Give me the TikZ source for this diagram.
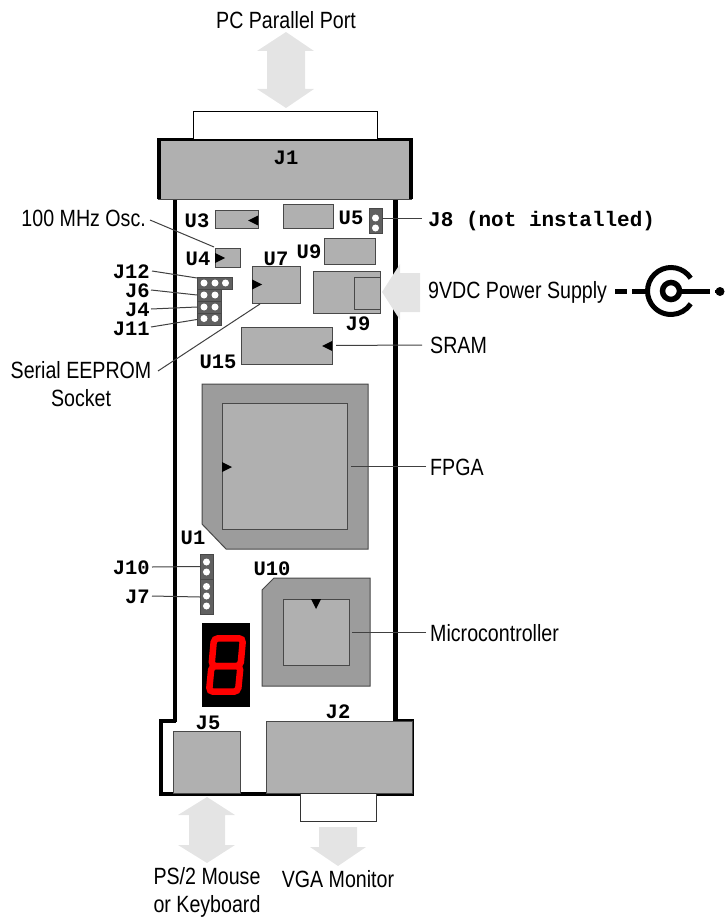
\documentclass[tikz,border=0pt]{standalone}
\usepackage{fontspec}
\setmainfont[FakeStretch=0.835]{Liberation Sans}
\newfontfamily\pinfont{Liberation Mono}
\definecolor{partgray}{HTML}{B0B0B0}
\definecolor{carriergray}{HTML}{9C9C9C}
\definecolor{headergray}{HTML}{606060}
\definecolor{edgegray}{HTML}{484848}
\definecolor{arrowgray}{HTML}{E4E4E4}
\tikzset{
  chip/.style={draw=edgegray, fill=partgray, line width=1pt, inner sep=0, outer sep=0, anchor=north west},
  header/.style={chip, fill=headergray},
  pin label/.style={inner sep=0, font=\pinfont\bfseries\fontsize{20.5}{22}\selectfont},
  sans label/.style={inner sep=0, align=center, font=\fontsize{23.5}{28}\selectfont},
  leader/.style={draw=black!75, line width=1pt},
  big arrow/.style={fill=arrowgray},
}
\begin{document}
\begin{tikzpicture}[x=1pt, y=-1pt, >=stealth]
  \useasboundingbox (0,0) rectangle (724,917);

  % board outline
  \draw [line width=4.4pt] (175,199) -- (175,722);
  \draw [line width=4.4pt] (395.5,199) -- (395.5,722);
  \draw [line width=3.5pt] (176,721) -- (161,721) -- (161,794) -- (412,794) -- (412,721) -- (394,721);

  % connectors
  \node [chip, line width=1.8pt, minimum width=252, minimum height=60] (J1) at (159,139.5) {};
  \draw [line width=3.5pt] (J1.south west) |- (J1.north east) -- (J1.south east);
  \node [chip, draw=black, fill=white, minimum width=184, minimum height=28] (J1-tab) at (193,112) {};
  \node [chip, minimum width=67, minimum height=62] (J5) at (173,731) {};
  \node [chip, minimum width=146, minimum height=72] (J2) at (266,721) {};
  \node [chip, draw=black!80, fill=white, minimum width=76, minimum height=28] (J2-tab) at (300,793) {};

  % parts on the board
  \foreach \n/\x/\y/\w/\h in {U3/215/211/43/18, U0/283/205/50/24, U9/324/238/51/26, J9/313/271/67/42,
      J9-jack/354/277/26/32, U4/215/248/25/19, U7/252/266/48/37, U15/241/327/91/37}
    \node [chip, minimum width=\w, minimum height=\h] (\n) at (\x,\y) {};

  \draw [edgegray, line width=1pt, fill=carriergray] (202,384) -- (368,384) -- (368,549) -- (226,549) -- (202,524) -- cycle;
  \node [chip, minimum width=125, minimum height=126] (FPGA) at (222,403) {};
  \draw [edgegray, line width=1pt, fill=carriergray] (274,578) -- (370,578) -- (370,686) -- (262,686) -- (262,590) -- cycle;
  \node [chip, minimum width=66, minimum height=66] (MCU) at (283,599) {};

  % pin 1 marks
  \foreach \x/\y/\dx/\dy in {248/220.5/10/0, 225/258/-10/0, 262/284.5/-10/0, 322/346/10/0, 232/467/-10/0, 316/609/0/-10}
    \fill (\x,\y) -- ++({\dx+\dy/2},{\dy+\dx/2}) -- ++({-\dy},{-\dx}) -- cycle;

  % jumper headers
  \foreach \n/\x/\y/\w/\h in {J8/369/209/13/24, J12/197/277/35/12, J6/197/289/24/12, J4/197/301/24/12,
      J11/197/313/24/12, J10/200/554/13/25, J7/200/579/13/35}
    \node [header, minimum width=\w, minimum height=\h] (\n) at (\x,\y) {};
  \foreach \x/\y in {375.5/218, 375.5/228, 204/283, 215/283, 225.5/283, 204/295, 215/295, 204/307, 215/307,
      204/318.5, 215/318.5, 206.5/562, 206.5/572, 206.5/586.5, 206.5/596, 206.5/606}
    \fill [white] (\x,\y) circle (3.5);

  % seven segment display
  \node [chip, draw=none, fill=black, minimum width=48, minimum height=84] (display) at (202,623) {};
  \draw [red, line width=6.5pt, rounded corners=4pt] (214,638.3) -- (243,638.3) -- (240.5,666) -- (211.5,666) -- cycle;
  \draw [red, line width=6.5pt, rounded corners=4pt] (211.5,666) -- (240.5,666) -- (238,691.7) -- (209,691.7) -- cycle;

  % designators
  \foreach \t/\x/\y in {J1/286/158, U3/197/221, U5/351/218, U9/309/252, U7/276/259, U4/198/259, J9/358/324,
      U15/218/362, U1/193/538, U10/272/569, J2/338/712, J5/208/723}
    \node [pin label] (label-\t) at (\x,\y) {\t};
  \foreach \t/\y in {J12/272, J6/291, J4/310, J11/329, J10/568, J7/597}
    \node [pin label, anchor=east] (label-\t) at (150,\y) {\t};
  \node [pin label, anchor=west, font=\pinfont\bfseries\fontsize{21}{22}\selectfont] (label-J8) at (428,221) {J8 (not installed)};

  % names of the parts
  \node [sans label] (label-parallel) at (286,20) {PC Parallel Port};
  \node [sans label, anchor=east] (label-osc) at (146,218) {100 MHz Osc.};
  \node [sans label] (label-eeprom) at (81,384) {Serial EEPROM\\Socket};
  \node [sans label, anchor=west] (label-power) at (428,292) {9VDC Power Supply};
  \node [sans label, anchor=west] (label-sram) at (430,345) {SRAM};
  \node [sans label, anchor=west] (label-fpga) at (430,467) {FPGA};
  \node [sans label, anchor=west] (label-mcu) at (430,633) {Microcontroller};
  \node [sans label] (label-ps2) at (207,892) {PS/2 Mouse\\or Keyboard};
  \node [sans label] (label-vga) at (338,879) {VGA Monitor};

  % leaders
  \coordinate (osc-end) at (214,247);
  \coordinate (eeprom-end) at (260,304);
  \draw [leader] (label-osc.east) ++(4,2) -- (osc-end);
  \draw [leader] (158,371) -- (eeprom-end);
  \draw [leader] (label-J12.east) ++(2,-1) -- ([yshift=5pt]J12.west);
  \draw [leader] (label-J6.east) ++(1,-1) -- (J6.west);
  \draw [leader] (label-J4.east) ++(1,-1) -- (J4.west);
  \draw [leader] (label-J11.east) ++(1,-2) -- ([yshift=-0.5pt]J11.west);
  \draw [leader] (J8.east) ++(0,-2) -- ++(40,0);
  \draw [leader, shorten >=4pt] (label-sram.west) ++(-8,0) -- (U15.east);
  \draw [leader, shorten >=4pt] (label-fpga.west) ++(-4,-1) -- (FPGA.east);
  \draw [leader, shorten >=3pt] (label-mcu.west) ++(-4,-1) -- (MCU.east);
  \draw [leader] (label-J10.east) ++(2,-1) -- (J10.west);
  \draw [leader] (label-J7.east) ++(2,-1) -- ([yshift=-0.5pt]J7.west);

  % big arrows
  \fill [big arrow] (286,32) -- (314,51) -- (305,51) -- (305,89) -- (314,89) -- (286,108) -- (257,89) -- (267,89) -- (267,51) -- (257,51) -- cycle;
  \fill [big arrow] (207,797) -- (235,815) -- (225,815) -- (225,845) -- (235,845) -- (207,863) -- (178,845) -- (189,845) -- (189,815) -- (178,815) -- cycle;
  \fill [big arrow] (319,827) -- (357,827) -- (357,847) -- (366,847) -- (338,866) -- (310,847) -- (319,847) -- cycle;
  \fill [big arrow] (382,292) -- (400,264) -- (400,273) -- (420,273) -- (420,312) -- (400,312) -- (400,320) -- cycle;

  % power jack
  \coordinate (jack) at (671,291);
  \draw [line width=5pt] (615,291) -- (627,291);
  \draw [line width=5pt] (632,291) -- (650,291);
  \draw [line width=5pt] (jack) ++(-33:23.5) arc (-33:-327:23.5);
  \draw [line width=5.5pt] (jack) circle (8.5);
  \draw [line width=5pt] (jack) ++(8.5,0) -- (710,291);
  \fill (720,291.5) circle (4.5);
  \draw [line width=3pt] (715,291.5) -- (724,291.5);
\end{tikzpicture}
\end{document}
